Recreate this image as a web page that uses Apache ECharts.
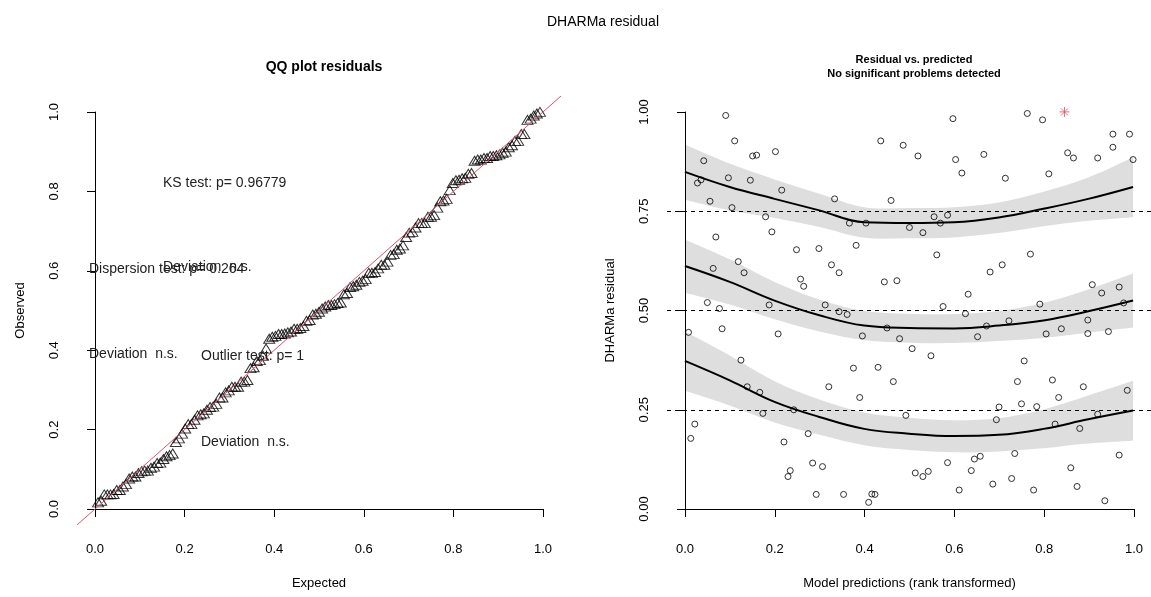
<!DOCTYPE html>
<html>
<head>
<meta charset="utf-8">
<title>DHARMa residual</title>
<script src="https://cdn.jsdelivr.net/npm/echarts@6/dist/echarts.min.js"></script>
<style>
  html, body { margin: 0; padding: 0; background: #fff; }
  #main { width: 1151px; height: 597px; }
</style>
</head>
<body>
<div id="main"></div>
<script>
// rank transformed model predictions and scaled residuals
var predX = [0.091,0.111,0.042,0.151,0.160,0.202,0.097,0.028,0.036,0.146,0.216,0.056,0.105,0.180,0.194,0.069,
  0.334,0.367,0.404,0.437,0.460,0.487,0.520,0.501,0.531,0.556,0.570,0.586,0.598,0.604,0.618,0.667,0.715,0.764,
  0.798,0.812,0.854,0.867,0.921,0.955,0.955,0.992,1.000,
  0.249,0.299,0.119,0.063,0.132,0.327,0.344,0.382,0.258,0.265,0.445,0.473,0.562,0.681,0.708,0.771,
  0.050,0.077,0.188,0.313,0.344,0.362,0.632,0.576,0.626,0.792,0.909,0.930,0.969,0.979,
  0.008,0.083,0.208,0.451,0.396,0.479,0.653,0.673,0.723,0.806,0.840,0.899,0.899,0.945,0.507,0.549,
  0.125,0.376,0.431,0.465,0.321,0.390,0.139,0.167,0.174,0.243,0.757,0.742,0.820,0.889,0.834,0.987,
  0.701,0.751,0.785,0.493,0.695,0.826,0.921,0.881,0.022,0.013,0.275,0.221,0.235,0.230,0.285,0.307,
  0.293,0.354,0.410,0.417,0.424,0.514,0.531,0.543,0.586,0.612,0.639,0.646,0.659,0.687,0.729,0.736,
  0.778,0.861,0.875,0.937,0.969];
var resid = [0.991,0.927,0.877,0.889,0.891,0.900,0.834,0.821,0.829,0.828,0.803,0.775,0.759,0.736,0.698,0.685,
  0.781,0.720,0.720,0.927,0.777,0.916,0.889,0.709,0.696,0.736,0.720,0.740,0.983,0.880,0.846,0.893,0.833,0.996,
  0.980,0.844,0.897,0.884,0.884,0.944,0.911,0.944,0.880,
  0.653,0.656,0.623,0.606,0.595,0.615,0.595,0.664,0.579,0.561,0.572,0.575,0.640,0.597,0.615,0.642,
  0.520,0.505,0.514,0.514,0.497,0.490,0.541,0.510,0.492,0.516,0.565,0.544,0.559,0.519,
  0.445,0.454,0.441,0.456,0.436,0.429,0.434,0.461,0.474,0.441,0.454,0.476,0.442,0.447,0.404,0.386,
  0.375,0.355,0.357,0.321,0.308,0.281,0.308,0.294,0.241,0.250,0.373,0.321,0.325,0.308,0.281,0.299,
  0.257,0.265,0.258,0.236,0.225,0.214,0.239,0.203,0.214,0.178,0.190,0.169,0.097,0.082,0.116,0.107,
  0.037,0.037,0.017,0.038,0.037,0.091,0.082,0.095,0.117,0.048,0.097,0.126,0.133,0.063,0.077,0.140,
  0.048,0.104,0.057,0.021,0.136];

// outlier (simulation boundary), drawn as a red star
var outX = [0.847];
var outY = [1.0];

// quantile regression fits and their bands
var quantiles = [0.25, 0.5, 0.75];
var fitX = [0, 0.1, 0.2, 0.3, 0.4, 0.5, 0.6, 0.7, 0.8, 0.9, 1.0];
var q25Fit = [0.373,0.324,0.270,0.232,0.202,0.190,0.184,0.187,0.202,0.226,0.248];
var q25Lo  = [0.298,0.261,0.218,0.187,0.161,0.149,0.143,0.145,0.153,0.165,0.172];
var q25Hi  = [0.447,0.387,0.322,0.276,0.243,0.230,0.224,0.229,0.251,0.286,0.323];
var q50Fit = [0.612,0.572,0.525,0.488,0.462,0.456,0.455,0.462,0.475,0.498,0.525];
var q50Lo  = [0.545,0.515,0.478,0.447,0.425,0.419,0.418,0.423,0.431,0.444,0.457];
var q50Hi  = [0.679,0.629,0.572,0.528,0.499,0.492,0.491,0.499,0.519,0.553,0.593];
var q75Fit = [0.849,0.811,0.781,0.752,0.722,0.720,0.722,0.734,0.756,0.781,0.811];
var q75Lo  = [0.779,0.752,0.733,0.710,0.683,0.682,0.684,0.695,0.712,0.726,0.735];
var q75Hi  = [0.918,0.870,0.830,0.794,0.760,0.758,0.760,0.772,0.799,0.835,0.886];

var font = 'Liberation Sans, Arial, sans-serif';
var red = '#DF536B';
var lo = -0.04, hi = 1.04;   // R pads the 0..1 range by 4%

// QQ plot: sorted residuals against uniform expectation
var allRes = resid.concat(outY).slice().sort(function(a, b) { return a - b; });
var n = allRes.length;
var qqData = [];
for (var i = 0; i < n; i++) qqData.push([(i + 1) / (n + 1), allRes[i]]);

var scatterData = [];
for (var i = 0; i < predX.length; i++) scatterData.push([predX[i], resid[i]]);
var outData = [];
for (var i = 0; i < outX.length; i++) outData.push([outX[i], outY[i]]);

function pairs(ys) {
  return fitX.map(function(x, i) { return [x, ys[i]]; });
}

// catmull-rom through pixel points, as svg cubic segments
function curveTo(pts) {
  var d = '';
  for (var i = 0; i < pts.length - 1; i++) {
    var p0 = pts[i - 1] || pts[i], p1 = pts[i], p2 = pts[i + 1], p3 = pts[i + 2] || p2;
    var c1 = [p1[0] + (p2[0] - p0[0]) / 6, p1[1] + (p2[1] - p0[1]) / 6];
    var c2 = [p2[0] - (p3[0] - p1[0]) / 6, p2[1] - (p3[1] - p1[1]) / 6];
    d += ' C' + c1[0] + ',' + c1[1] + ' ' + c2[0] + ',' + c2[1] + ' ' + p2[0] + ',' + p2[1];
  }
  return d;
}

function band(lows, highs) {
  return {
    type: 'custom', xAxisIndex: 2, yAxisIndex: 2, silent: true, z: 3,
    data: [[0.5, 0.5]],
    renderItem: function(params, api) {
      var top = fitX.map(function(x, i) { return api.coord([x, highs[i]]); });
      var bot = fitX.map(function(x, i) { return api.coord([x, lows[i]]); }).reverse();
      var d = 'M' + top[0][0] + ',' + top[0][1] + curveTo(top) +
        ' L' + bot[0][0] + ',' + bot[0][1] + curveTo(bot) + ' Z';
      return { type: 'path', shape: { pathData: d },
        style: { fill: 'rgba(0,0,0,0.13)', stroke: null } };
    }
  };
}
function fitLine(ys) {
  return { type: 'line', xAxisIndex: 2, yAxisIndex: 2, data: pairs(ys), smooth: 0.4,
    symbol: 'none', lineStyle: { color: '#000', width: 2 }, z: 5 };
}

function dataAxis(gi) {
  return { gridIndex: gi, type: 'value', min: lo, max: hi, show: false };
}
function frameX(gi) {
  return {
    gridIndex: gi, type: 'value', min: 0, max: 1, interval: 0.2, offset: 16,
    axisLine: { lineStyle: { color: '#000', width: 1 } },
    axisTick: { length: 8, lineStyle: { color: '#000' } },
    splitLine: { show: false },
    axisLabel: { margin: 18, fontSize: 13, color: '#000', fontFamily: font,
      formatter: function(v) { return v.toFixed(1); } },
    nameLocation: 'middle', nameGap: 52,
    nameTextStyle: { fontSize: 13, color: '#000', fontFamily: font }
  };
}
function frameY(gi, interval, digits) {
  return {
    gridIndex: gi, type: 'value', min: 0, max: 1, interval: interval, offset: 18,
    axisLine: { lineStyle: { color: '#000', width: 1 } },
    axisTick: { length: 8, lineStyle: { color: '#000' } },
    splitLine: { show: false },
    axisLabel: { margin: 16, rotate: 90, fontSize: 13, color: '#000', fontFamily: font,
      formatter: function(v) { return v.toFixed(digits); } },
    nameLocation: 'middle', nameGap: 50, nameRotate: 90,
    nameTextStyle: { fontSize: 13, color: '#000', fontFamily: font }
  };
}

var series = [
  { type: 'scatter', xAxisIndex: 0, yAxisIndex: 0, data: qqData, symbol: 'triangle',
    symbolSize: [11, 9], itemStyle: { color: 'transparent', borderColor: '#000', borderWidth: 1 }, z: 2 },
  { type: 'line', xAxisIndex: 0, yAxisIndex: 0, data: [[lo, lo], [hi, hi]], symbol: 'none',
    lineStyle: { color: red, width: 1 }, z: 3 },
  { type: 'scatter', xAxisIndex: 2, yAxisIndex: 2, data: scatterData, symbol: 'circle', symbolSize: 6,
    itemStyle: { color: 'transparent', borderColor: '#000', borderWidth: 1 }, z: 2 },
  { type: 'scatter', xAxisIndex: 2, yAxisIndex: 2, data: outData,
    symbol: 'path://M0,5L10,5M5,0L5,10M1.5,1.5L8.5,8.5M8.5,1.5L1.5,8.5', symbolSize: 10,
    itemStyle: { color: 'transparent', borderColor: red, borderWidth: 1 }, z: 2 },
  { type: 'line', xAxisIndex: 2, yAxisIndex: 2, data: [], z: 4,
    markLine: { silent: true, symbol: 'none', label: { show: false },
      lineStyle: { color: '#000', width: 1, type: [4, 4] },
      data: quantiles.map(function(q) { return { yAxis: q }; }) } },
  band(q25Lo, q25Hi), band(q50Lo, q50Hi), band(q75Lo, q75Hi),
  fitLine(q25Fit), fitLine(q50Fit), fitLine(q75Fit)
];

var xl = frameX(1); xl.name = 'Expected';
var yl = frameY(1, 0.2, 1); yl.name = 'Observed';
var xr = frameX(3); xr.name = 'Model predictions (rank transformed)';
var yr = frameY(3, 0.25, 2); yr.name = 'DHARMa residual';

function note(txt, x, y) {
  return { type: 'text', x: x, y: y, z: 10,
    style: { text: txt, fill: '#222', font: '14px ' + font, verticalAlign: 'middle' } };
}

var myChart = echarts.init(document.getElementById('main'));
var option = {
  animation: false,
  backgroundColor: '#fff',
  title: [
    { text: 'DHARMa residual', left: 598, top: 10, textAlign: 'center',
      textStyle: { fontSize: 14, fontWeight: 'normal', color: '#000', fontFamily: font } },
    { text: 'QQ plot residuals', left: 319, top: 55, textAlign: 'center',
      textStyle: { fontSize: 14, fontWeight: 'bold', color: '#000', fontFamily: font } },
    { text: 'Residual vs. predicted\nNo significant problems detected', left: 909, top: 48, textAlign: 'center',
      textStyle: { fontSize: 11, fontWeight: 'bold', color: '#000', fontFamily: font, lineHeight: 14 } }
  ],
  grid: [
    { left: 77, top: 96, width: 484, height: 429 },
    { left: 95, top: 112, width: 448, height: 397 },
    { left: 667, top: 96, width: 485, height: 429 },
    { left: 685, top: 112, width: 449, height: 397 }
  ],
  xAxis: [dataAxis(0), xl, dataAxis(2), xr],
  yAxis: [dataAxis(0), yl, dataAxis(2), yr],
  series: series,
  graphic: [
    note('KS test: p= 0.96779', 163, 183),
    note('Dispersion test: p= 0.264', 89, 269),
    note('Deviation  n.s.', 163, 267),
    note('Deviation  n.s.', 89, 354),
    note('Outlier test: p= 1', 201, 356),
    note('Deviation  n.s.', 201, 442)
  ]
};
myChart.setOption(option);
</script>
</body>
</html>
